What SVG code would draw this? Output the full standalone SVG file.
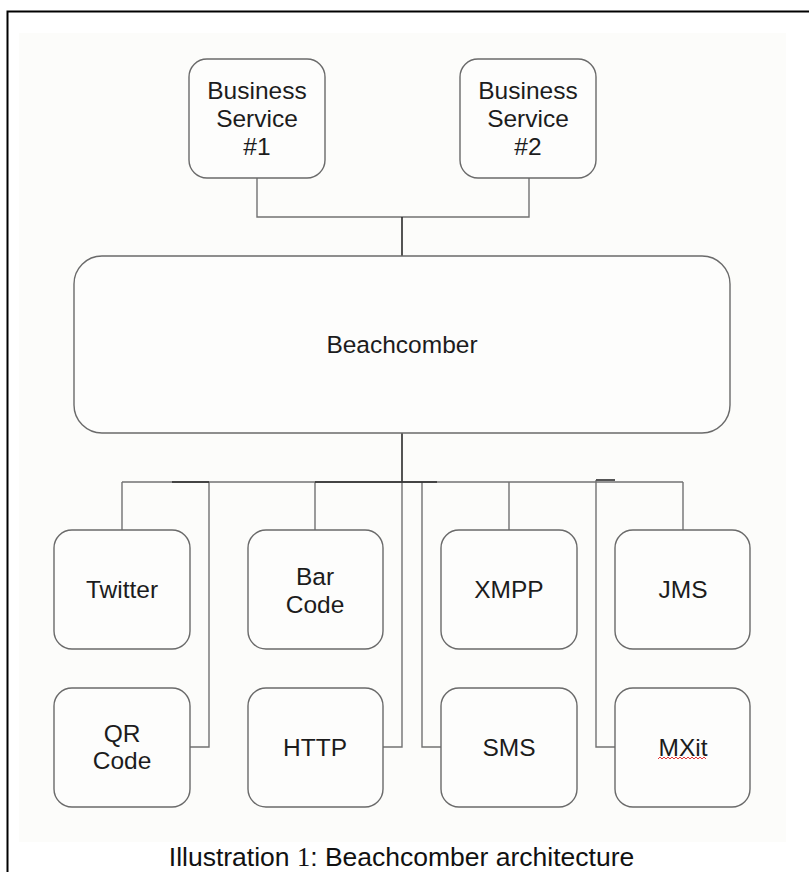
<svg xmlns="http://www.w3.org/2000/svg" width="809" height="872" viewBox="0 0 809 872">
<style>
.bg{fill:#fcfcfa}
.box{fill:#fdfdfc;stroke:#6a6a6a;stroke-width:1.4}
.lbl{font-family:"Liberation Sans",Arial,sans-serif;font-size:24.5px;fill:#1c1c1c;text-anchor:middle}
.con{fill:none;stroke:#727272;stroke-width:1.4}
.dark{fill:none;stroke:#2a2a2a;stroke-width:1.6}
.cap{font-family:"Liberation Sans",Arial,sans-serif;font-size:26.5px;fill:#111;text-anchor:middle}
</style>
<rect width="809" height="872" fill="#ffffff"/>
<path d="M7.5,872 V11.5 H809" fill="none" stroke="#000" stroke-width="2"/>
<rect class="bg" x="19" y="33" width="767" height="809"/>
<g id="connectors">
<path class="con" d="M257,178 V217 H529 V178"/>
<path class="dark" d="M402,217 V256"/>
<path class="dark" d="M402,433 V482"/>
<path class="con" d="M122,482 H683"/>
<path class="con" d="M122,482 V530 M315,482 V530 M509,482 V530 M683,482 V530"/>
<path class="con" d="M209,482 V747 H190"/>
<path class="con" d="M402,482 V747 H383"/>
<path class="con" d="M422,482 V747 H441"/>
<path class="con" d="M596,480 V747 H615"/>
<path class="dark" d="M172,482 H209 M315,482 H402 M402,482 H437"/>
<path fill="none" stroke="#555" stroke-width="2" d="M596,480 H615"/>
</g>
<g id="bs1"><rect class="box" x="189" y="59" width="136" height="119" rx="18"/><text class="lbl" x="257" y="99">Business</text><text class="lbl" x="257" y="127">Service</text><text class="lbl" x="257" y="155">#1</text></g>
<g id="bs2"><rect class="box" x="460" y="59" width="136" height="119" rx="18"/><text class="lbl" x="528" y="99">Business</text><text class="lbl" x="528" y="127">Service</text><text class="lbl" x="528" y="155">#2</text></g>
<g id="beachcomber"><rect class="box" x="74" y="256" width="656" height="177" rx="28"/><text class="lbl" x="402" y="353">Beachcomber</text></g>
<g id="twitter"><rect class="box" x="54" y="530" width="136" height="119" rx="18"/><text class="lbl" x="122" y="598">Twitter</text></g>
<g id="barcode"><rect class="box" x="248" y="530" width="135" height="119" rx="18"/><text class="lbl" x="315" y="585">Bar</text><text class="lbl" x="315" y="613">Code</text></g>
<g id="xmpp"><rect class="box" x="441" y="530" width="136" height="119" rx="18"/><text class="lbl" x="509" y="598">XMPP</text></g>
<g id="jms"><rect class="box" x="615" y="530" width="135" height="119" rx="18"/><text class="lbl" x="683" y="598">JMS</text></g>
<g id="qrcode"><rect class="box" x="54" y="688" width="136" height="119" rx="18"/><text class="lbl" x="122" y="742">QR</text><text class="lbl" x="122" y="769">Code</text></g>
<g id="http"><rect class="box" x="248" y="688" width="135" height="119" rx="18"/><text class="lbl" x="315" y="756">HTTP</text></g>
<g id="sms"><rect class="box" x="441" y="688" width="136" height="119" rx="18"/><text class="lbl" x="509" y="756">SMS</text></g>
<g id="mxit"><rect class="box" x="615" y="688" width="135" height="119" rx="18"/><text class="lbl" x="683" y="756">MXit</text>
<path fill="none" stroke="#e02020" stroke-width="0.9" d="M658,759 l2,-2 l2,2 l2,-2 l2,2 l2,-2 l2,2 l2,-2 l2,2 l2,-2 l2,2 l2,-2 l2,2 l2,-2 l2,2 l2,-2 l2,2 l2,-2 l2,2 l2,-2 l2,2 l2,-2 l2,2 l2,-2 l2,2"/></g>
<text class="cap" x="401.5" y="866">Illustration <tspan font-family="'Liberation Serif','Times New Roman',serif">1</tspan>: Beachcomber architecture</text>
</svg>
